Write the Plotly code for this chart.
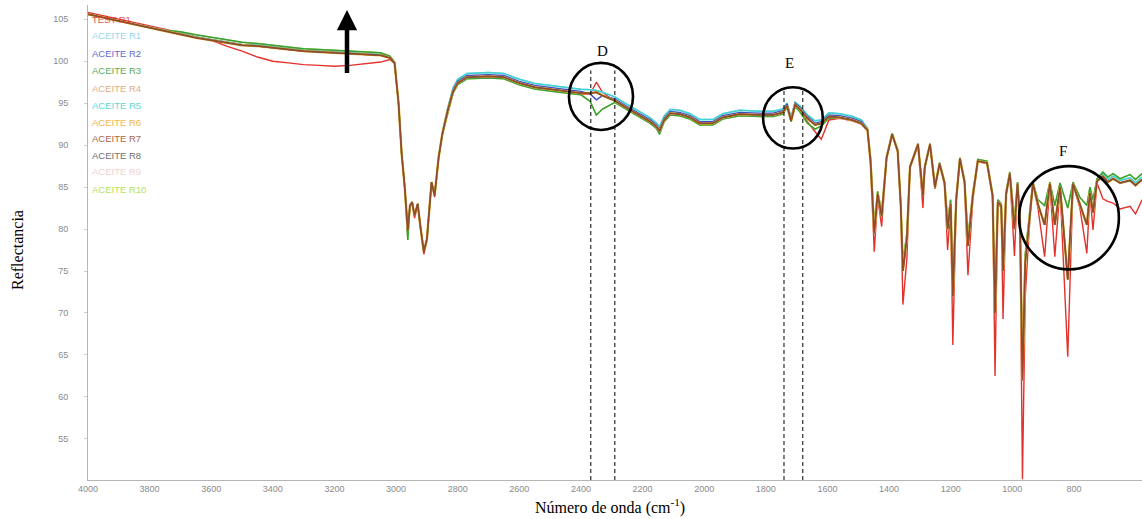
import plotly.graph_objects as go

# ---------------- data ----------------
wavenumber = [
    4000, 3950, 3900, 3850, 3800, 3750, 3700, 3650, 3600, 3550,
    3500, 3450, 3400, 3350, 3300, 3250, 3200, 3150, 3100, 3050,
    3020, 3005, 2992, 2982, 2972, 2962, 2955, 2948, 2940, 2930,
    2920, 2910, 2900, 2885, 2875, 2862, 2850, 2832, 2815, 2800,
    2770, 2700, 2650, 2600, 2550, 2470, 2400, 2370, 2350, 2330,
    2290, 2250, 2210, 2175, 2155, 2145, 2130, 2110, 2080, 2046,
    2014, 1972, 1940, 1885, 1820, 1777, 1745, 1731, 1718, 1705,
    1690, 1665, 1640, 1620, 1595, 1560, 1520, 1490, 1470, 1460,
    1448, 1437, 1424, 1408, 1390, 1372, 1362, 1355, 1342, 1332,
    1306, 1290, 1284, 1267, 1251, 1236, 1220, 1210, 1200, 1193,
    1182, 1170, 1155, 1144, 1128, 1112, 1082, 1064, 1056, 1047,
    1036, 1030, 1020, 1008, 993, 983, 975, 967, 958, 943,
    933, 917, 895, 878, 862, 845, 820, 803, 781, 758,
    748, 738, 725, 706, 690, 673, 650, 618, 600, 579,
]

test_r = [
    105.8, 105.4, 105.0, 104.6, 104.2, 103.8, 103.4, 102.9, 102.5, 101.8,
    101.2, 100.5, 100.0, 99.8, 99.6, 99.5, 99.4, 99.5, 99.7, 99.9,
    100.2, 99.7, 94.9, 88.9, 84.9, 79.5, 82.7, 83.0, 81.3, 82.9,
    79.8, 77.0, 78.6, 85.5, 83.8, 88.4, 91.2, 94.1, 96.3, 97.3,
    98.0, 98.1, 98.0, 97.3, 96.8, 96.4, 96.1, 96.1, 97.5, 96.3,
    95.2, 94.3, 93.5, 92.7, 92.1, 91.6, 92.9, 93.7, 93.6, 93.2,
    92.5, 92.5, 93.2, 93.6, 93.5, 93.5, 93.8, 94.6, 92.8, 94.7,
    94.2, 92.8, 91.6, 90.7, 93.0, 93.2, 92.9, 92.5, 91.7, 87.8,
    77.3, 83.8, 80.3, 88.4, 91.2, 89.2, 82.5, 71.0, 76.5, 87.3,
    90.0, 82.5, 87.3, 90.0, 84.8, 87.7, 85.4, 77.5, 82.5, 66.2,
    83.3, 88.3, 85.5, 74.5, 83.5, 88.0, 87.8, 83.8, 62.5, 83.0,
    82.6, 69.3, 84.0, 86.5, 76.8, 85.3, 80.0, 50.2, 72.0, 81.2,
    85.3, 82.6, 76.7, 85.3, 76.7, 84.9, 64.8, 85.3, 82.6, 77.1,
    84.2, 79.9, 85.5, 83.6, 83.3, 83.1, 82.4, 82.7, 81.8, 83.5,
]

aceite_mid = [
    105.6, 105.2, 104.8, 104.4, 104.0, 103.6, 103.2, 102.8, 102.5, 102.2,
    101.9, 101.8, 101.6, 101.4, 101.2, 101.1, 101.0, 100.9, 100.8, 100.7,
    100.4, 99.8, 95.0, 89.0, 85.0, 79.8, 82.8, 83.2, 81.6, 83.0,
    80.0, 77.3, 78.8, 85.6, 84.0, 88.5, 91.3, 94.2, 96.4, 97.4,
    98.1, 98.2, 98.1, 97.4, 96.9, 96.5, 96.2, 96.2, 96.3, 95.9,
    95.3, 94.4, 93.6, 92.8, 92.2, 91.7, 93.0, 93.8, 93.7, 93.3,
    92.6, 92.6, 93.3, 93.7, 93.6, 93.6, 93.9, 94.7, 92.9, 94.8,
    94.3, 93.2, 92.4, 92.6, 93.4, 93.3, 93.0, 92.6, 91.8, 88.0,
    79.5, 84.2, 81.5, 88.5, 91.3, 89.3, 82.8, 75.0, 79.0, 87.4,
    90.1, 84.0, 87.4, 90.1, 85.0, 87.8, 85.5, 80.0, 83.0, 72.0,
    83.5, 88.4, 85.6, 78.0, 84.0, 88.1, 87.9, 84.0, 70.0, 83.2,
    82.8, 75.0, 84.2, 86.6, 80.0, 85.4, 81.0, 62.0, 76.0, 81.5,
    85.4, 83.0, 80.5, 85.4, 80.5, 85.0, 74.0, 85.4, 83.0, 80.5,
    84.3, 82.0, 85.7, 86.3, 85.6, 86.0, 85.5, 85.8, 85.2, 85.9,
]

aceite_green = [
    105.6, 105.2, 104.8, 104.4, 104.0, 103.7, 103.5, 103.15, 102.85, 102.55,
    102.25, 102.1, 101.9, 101.7, 101.5, 101.4, 101.3, 101.2, 101.1, 101.0,
    100.6, 99.9, 95.0, 89.0, 85.0, 78.7, 82.8, 83.2, 81.6, 83.0,
    80.0, 77.5, 78.8, 85.6, 84.0, 88.5, 91.3, 94.0, 96.2, 97.2,
    97.9, 98.0, 97.9, 97.2, 96.7, 96.3, 96.0, 95.2, 93.6, 94.3,
    95.1, 94.2, 93.4, 92.6, 92.0, 91.3, 92.8, 93.6, 93.5, 93.1,
    92.4, 92.4, 93.1, 93.5, 93.4, 93.4, 93.7, 94.5, 92.8, 94.6,
    94.0, 92.6, 91.9, 92.3, 93.2, 93.3, 93.0, 92.6, 91.8, 88.5,
    80.5, 84.5, 82.0, 88.6, 91.4, 89.5, 83.0, 76.0, 79.5, 87.5,
    90.2, 84.2, 87.5, 90.2, 85.2, 87.9, 85.7, 81.0, 83.5, 73.0,
    83.8, 88.5, 85.8, 79.0, 84.3, 88.3, 88.1, 84.2, 72.0, 83.5,
    83.0, 76.0, 84.5, 86.8, 81.0, 85.6, 81.5, 64.0, 77.0, 82.0,
    85.6, 83.5, 82.8, 85.6, 82.8, 85.5, 82.5, 85.6, 83.8, 82.8,
    85.0, 83.5, 86.0, 86.8, 86.2, 86.6, 86.0, 86.5, 85.9, 86.6,
]

aceite_cyan = [
    105.6, 105.2, 104.8, 104.4, 104.0, 103.65, 103.3, 102.9, 102.6, 102.3,
    102.0, 101.9, 101.7, 101.5, 101.3, 101.2, 101.1, 101.0, 100.9, 100.8,
    100.5, 99.8, 95.0, 89.0, 85.0, 79.8, 82.8, 83.2, 81.6, 83.0,
    80.0, 77.3, 78.8, 85.6, 84.0, 88.6, 91.5, 94.5, 96.8, 97.85,
    98.55, 98.65, 98.55, 97.85, 97.35, 96.95, 96.65, 96.6, 96.5, 96.3,
    95.75, 94.85, 94.05, 93.25, 92.65, 92.2, 93.45, 94.25, 94.15, 93.75,
    93.05, 93.05, 93.75, 94.15, 94.05, 94.05, 94.3, 95.0, 93.3, 95.1,
    94.7, 93.6, 92.9, 93.0, 93.85, 93.75, 93.45, 93.0, 92.0, 88.2,
    79.5, 84.2, 81.5, 88.5, 91.3, 89.3, 82.8, 75.0, 79.0, 87.4,
    90.1, 84.0, 87.4, 90.1, 85.0, 87.8, 85.5, 80.0, 83.0, 72.0,
    83.5, 88.4, 85.6, 78.0, 84.0, 88.1, 87.9, 84.0, 70.0, 83.2,
    82.8, 75.0, 84.2, 86.6, 80.0, 85.4, 81.0, 62.0, 76.0, 81.5,
    85.4, 83.0, 80.5, 85.4, 80.5, 85.0, 74.0, 85.4, 83.0, 80.5,
    84.6, 82.3, 86.0, 86.6, 85.9, 86.3, 85.8, 86.1, 85.5, 86.2,
]

aceite_blue = [
    105.6, 105.2, 104.8, 104.4, 104.0, 103.6, 103.25, 102.85, 102.55, 102.25,
    101.95, 101.85, 101.65, 101.45, 101.25, 101.15, 101.05, 100.95, 100.85, 100.75,
    100.4, 99.8, 95.0, 89.0, 85.0, 79.8, 82.8, 83.2, 81.6, 83.0,
    80.0, 77.3, 78.8, 85.6, 84.0, 88.5, 91.4, 94.3, 96.6, 97.6,
    98.3, 98.4, 98.3, 97.6, 97.1, 96.7, 96.4, 96.1, 95.4, 95.9,
    95.5, 94.6, 93.8, 93.0, 92.4, 91.9, 93.2, 94.0, 93.9, 93.5,
    92.8, 92.8, 93.5, 93.9, 93.8, 93.8, 94.1, 94.9, 93.1, 95.0,
    94.5, 93.4, 92.6, 92.8, 93.6, 93.5, 93.2, 92.8, 91.9, 88.1,
    79.5, 84.2, 81.5, 88.5, 91.3, 89.3, 82.8, 75.0, 79.0, 87.4,
    90.1, 84.0, 87.4, 90.1, 85.0, 87.8, 85.5, 80.0, 83.0, 72.0,
    83.5, 88.4, 85.6, 78.0, 84.0, 88.1, 87.9, 84.0, 70.0, 83.2,
    82.8, 75.0, 84.2, 86.6, 80.0, 85.4, 81.0, 62.0, 76.0, 81.5,
    85.4, 83.0, 80.5, 85.4, 80.5, 85.0, 74.0, 85.4, 83.0, 80.5,
    84.3, 82.0, 85.7, 86.3, 85.6, 86.0, 85.5, 85.8, 85.2, 85.9,
]

series_names = ["TEST R1", "ACEITE R1", "ACEITE R2", "ACEITE R3", "ACEITE R4",
                "ACEITE R5", "ACEITE R6", "ACEITE R7", "ACEITE R8",
                "ACEITE R9", "ACEITE R10"]
series_values = {
    "TEST R1": test_r,
    "ACEITE R1": aceite_cyan,
    "ACEITE R2": aceite_blue,
    "ACEITE R3": aceite_green,
    "ACEITE R4": aceite_mid,
    "ACEITE R5": aceite_cyan,
    "ACEITE R6": aceite_mid,
    "ACEITE R7": aceite_mid,
    "ACEITE R8": aceite_mid,
    "ACEITE R9": aceite_mid,
    "ACEITE R10": aceite_green,
}
series_colors = {
    "TEST R1": "#e2322c",
    "ACEITE R1": "#86cfee",
    "ACEITE R2": "#3f4fc4",
    "ACEITE R3": "#3c9e3c",
    "ACEITE R4": "#d9a06e",
    "ACEITE R5": "#3fd3cf",
    "ACEITE R6": "#f0a832",
    "ACEITE R7": "#9a4a22",
    "ACEITE R8": "#555555",
    "ACEITE R9": "#efc9c9",
    "ACEITE R10": "#a6e03c",
}
x_ticks = [4000, 3800, 3600, 3400, 3200, 3000, 2800, 2600, 2400, 2200,
           2000, 1800, 1600, 1400, 1200, 1000, 800]
y_ticks = [55, 60, 65, 70, 75, 80, 85, 90, 95, 100, 105]

# ---------------- figure ----------------
draw_order = ["TEST R1", "ACEITE R1", "ACEITE R5", "ACEITE R2", "ACEITE R10",
              "ACEITE R3", "ACEITE R9", "ACEITE R4", "ACEITE R6", "ACEITE R8",
              "ACEITE R7"]
widths = {"ACEITE R6": 2.4, "ACEITE R7": 1.1, "TEST R1": 1.4}

fig = go.Figure()
for name in draw_order:
    fig.add_trace(go.Scatter(
        x=wavenumber, y=series_values[name], mode="lines", name=name,
        line=dict(color=series_colors[name], width=widths.get(name, 1.5)),
        showlegend=False,
    ))

W, H = 1142, 519
ML, MR, MT, MB = 88, 0, 5, 39
PW, PH = W - ML - MR, H - MT - MB


def px(xp):
    return (xp - ML) / PW


def py(yp):
    return 1 - (yp - MT) / PH


annotations = []
# legend as coloured text
legend_y = [19, 36, 53, 71, 88, 105, 122, 138, 155, 172, 189]
for name, yy in zip(series_names, legend_y):
    annotations.append(dict(
        x=px(90), y=py(yy), xref="paper", yref="paper", text=name,
        showarrow=False, xanchor="left", yanchor="middle",
        font=dict(family="Liberation Sans, Arial", size=9.5,
                  color=series_colors[name]),
        opacity=0.85,
    ))

# letters
for letter, (xx, yy) in {"D": (602, 51), "E": (789, 63), "F": (1063, 151)}.items():
    annotations.append(dict(
        x=px(xx), y=py(yy), xref="paper", yref="paper", text=letter,
        showarrow=False, xanchor="center", yanchor="middle",
        font=dict(family="Liberation Serif, Times New Roman", size=15,
                  color="black"),
    ))

# arrow
annotations.append(dict(
    x=px(347), y=py(10), xref="paper", yref="paper", text=" ",
    showarrow=True, ax=0, ay=67, arrowhead=2, arrowsize=0.9,
    arrowwidth=4.5, arrowcolor="black", standoff=0,
    font=dict(size=4),
))

# axis titles
annotations.append(dict(
    x=px(17), y=py(250), xref="paper", yref="paper", text="Reflectancia",
    showarrow=False, textangle=-90, xanchor="center", yanchor="middle",
    font=dict(family="Liberation Serif, Times New Roman", size=16, color="black"),
))
annotations.append(dict(
    x=px(610), y=py(507), xref="paper", yref="paper",
    text="Número de onda (cm<sup>-1</sup>)", showarrow=False,
    xanchor="center", yanchor="middle",
    font=dict(family="Liberation Serif, Times New Roman", size=16, color="black"),
))

shapes = []
# circles (wavenumber / reflectance coordinates)
circles = [(2439, 2231, 91.8, 99.8), (1809, 1615, 89.6, 96.9), (978, 654, 75.2, 87.5)]
for x0, x1, y0, y1 in circles:
    shapes.append(dict(type="circle", xref="x", yref="y", x0=x0, x1=x1,
                       y0=y0, y1=y1, line=dict(color="black", width=2.6)))
# dashed guide lines
guides = [(2368, 98.9), (2290, 98.9), (1741, 96.8), (1680, 96.8)]
for gx, gtop in guides:
    shapes.append(dict(type="line", xref="x", yref="y", x0=gx, x1=gx,
                       y0=50.1, y1=gtop,
                       line=dict(color="black", width=1, dash="4px,3px")))

tick_font = dict(family="Liberation Sans, Arial", size=9, color="#8a8a8a")
fig.update_layout(
    width=W, height=H,
    margin=dict(l=ML, r=MR, t=MT, b=MB),
    plot_bgcolor="white", paper_bgcolor="white",
    showlegend=False,
    xaxis=dict(range=[4000, 579], tickvals=x_ticks, showgrid=False,
               zeroline=False, showline=True, linecolor="#b5b5b5",
               linewidth=1, ticks="", tickfont=tick_font),
    yaxis=dict(range=[50.1, 106.7], tickvals=y_ticks, showgrid=False,
               zeroline=False, showline=True, linecolor="#b5b5b5",
               linewidth=1, ticks="outside", ticklen=3, tickcolor="#cfcfcf",
               ticklabelstandoff=14, tickfont=tick_font),
    annotations=annotations,
    shapes=shapes,
)

fig.write_html("out.html")
